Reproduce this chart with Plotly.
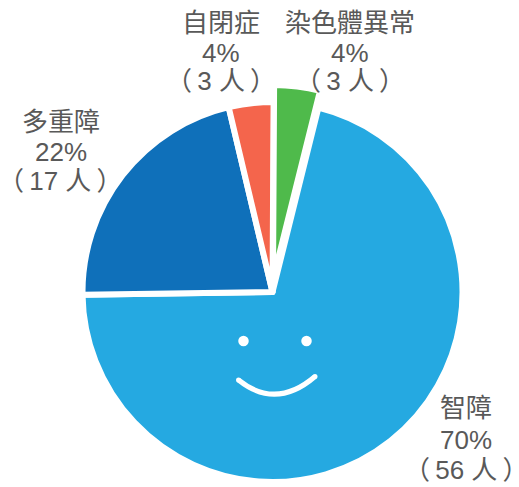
import plotly.graph_objects as go

categories = ["智障", "多重障", "自閉症", "染色體異常"]
values = [56, 17, 3, 3]
percent_labels = ["70%", "22%", "4%", "4%"]
colors = ["#25A9E1", "#0F70BA", "#F4654C", "#4FBA4B"]
clear = "rgba(0,0,0,0)"

FONT = "Liberation Sans, Noto Sans CJK TC, sans-serif"
W, H = 519, 487
cx, cy, r = 272.5, 292, 190          # main pie
gx, gy, gr = 273, 279.5, 194.5       # offset green slice


def domain(x, y, rad):
    return dict(x=[(x - rad) / W, (x + rad) / W], y=[1 - (y + rad) / H, 1 - (y - rad) / H])


main_colors = colors[:3] + [clear]
main_lines = ["white", "white", "white", clear]
top_colors = [clear, clear, clear, colors[3]]
top_lines = [clear, clear, clear, "white"]

fig = go.Figure()
fig.add_trace(go.Pie(
    values=values, labels=categories, sort=False, direction="clockwise",
    rotation=14, textinfo="none", hoverinfo="skip", showlegend=False,
    marker=dict(colors=main_colors, line=dict(color=main_lines, width=6)),
    domain=domain(cx, cy, r),
))
fig.add_trace(go.Pie(
    values=values, labels=categories, sort=False, direction="clockwise",
    rotation=14, textinfo="none", hoverinfo="skip", showlegend=False,
    marker=dict(colors=top_colors, line=dict(color=top_lines, width=6)),
    domain=domain(gx, gy, gr),
))

# x centre and the three line centres of each label block
label_pos = {
    "智障": (466, [408, 440, 470]),
    "多重障": (60.5, [122, 152, 181]),
    "自閉症": (220.5, [23, 53, 81]),
    "染色體異常": (349.5, [23, 53, 81]),
}
anns = []
for c, v, p in zip(categories, values, percent_labels):
    x, ys = label_pos[c]
    for line, y in zip([c, p, f"（\u2009{v} 人\u2009）"], ys):
        anns.append(dict(x=x / W, y=1 - y / H, xref="paper", yref="paper",
                         yanchor="middle", xanchor="center", showarrow=False,
                         text=line, font=dict(size=26, color="#595959", family=FONT)))


def dot(x, y, d):
    return dict(type="circle", xref="paper", yref="paper",
                x0=(x - d / 2) / W, x1=(x + d / 2) / W,
                y0=1 - (y + d / 2) / H, y1=1 - (y - d / 2) / H,
                fillcolor="white", line_width=0, layer="above")


fig.update_layout(
    width=W, height=H, margin=dict(l=0, r=0, t=0, b=0),
    paper_bgcolor="white", annotations=anns,
    shapes=[
        dot(243.5, 341, 10.5), dot(306.5, 341, 10.5),
        dot(238.5, 380, 5), dot(315, 376.5, 5),
        dict(type="path", xref="paper", yref="paper",
             path=f"M {238.5/W} {1-380/H} Q {276/W} {1-410/H} {315/W} {1-376.5/H}",
             line=dict(color="white", width=5), layer="above"),
    ],
)
fig.write_html("out.html", config={"displayModeBar": False},
               post_script="document.body.style.margin='0';document.body.style.overflow='hidden';")
